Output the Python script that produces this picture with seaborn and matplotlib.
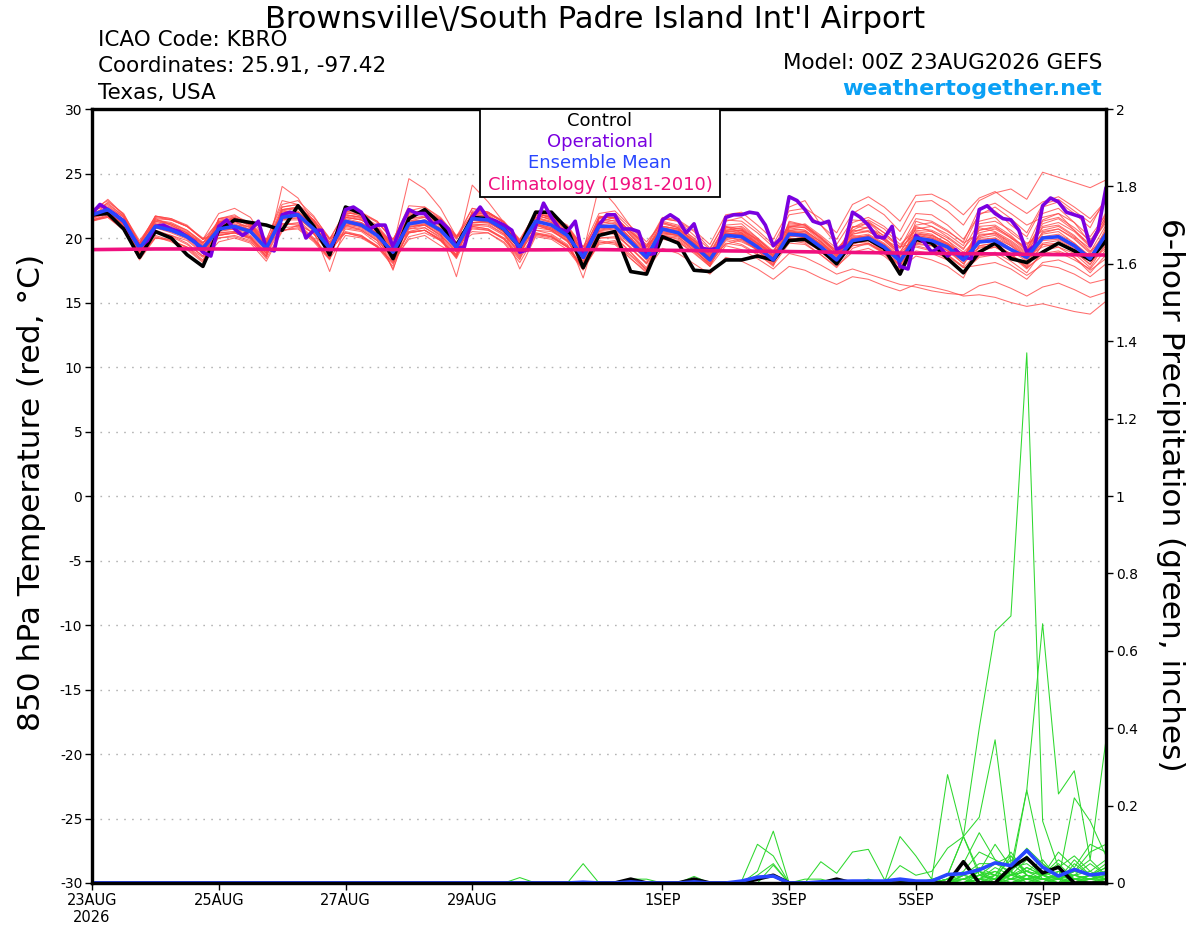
import matplotlib
matplotlib.use("Agg")
import matplotlib.pyplot as plt
from matplotlib.patches import Rectangle
import numpy as np
import pandas as pd
import seaborn as sns

# ---- forecast layout: GEFS 6-hourly members, GFS operational 3-hourly, daily climatology
step_h = 6
oper_step_h = 3
clim_step_h = 24

# 850 hPa temperature (deg C)
control_temp = [21.8, 21.9, 20.7, 18.5, 20.5, 20.0, 18.7, 17.8, 20.6, 21.4, 21.2, 21.0, 20.6,
                22.5, 20.9, 18.7, 22.4, 21.9, 20.6, 18.4, 21.5, 22.2, 21.1, 19.4, 21.6, 21.5,
                20.7, 19.3, 22.0, 22.0, 20.7, 17.7, 20.2, 20.5, 17.4, 17.2, 20.1, 19.6, 17.5,
                17.4, 18.3, 18.3, 18.6, 18.3, 19.8, 19.9, 19.1, 18.0, 19.7, 19.9, 19.2, 17.2,
                19.9, 19.6, 18.4, 17.3, 18.9, 19.6, 18.4, 18.1, 18.9, 19.6, 19.0, 18.3, 19.8]

oper_temp = [21.9, 22.6, 22.2, 21.8, 21.3, 20.2, 19.3, 19.8, 20.9, 21.0,
             20.7, 20.5, 20.1, 19.7, 18.9, 18.6, 20.9, 21.4, 20.7, 20.2,
             20.6, 21.3, 19.2, 19.0, 21.8, 22.0, 21.8, 20.0, 20.6, 20.6,
             19.1, 20.3, 22.2, 22.4, 22.0, 20.7, 21.0, 21.0, 19.3, 20.9,
             22.2, 21.9, 21.9, 21.1, 21.3, 20.7, 19.2, 19.3, 21.6, 22.4,
             21.5, 21.3, 21.0, 20.6, 18.9, 19.1, 20.9, 22.7, 21.6, 20.7,
             20.5, 21.3, 18.5, 19.8, 21.0, 21.8, 21.8, 20.7, 20.7, 20.5,
             18.7, 18.8, 21.4, 21.8, 21.4, 20.4, 21.1, 19.2, 19.1, 19.2,
             21.6, 21.8, 21.8, 22.0, 21.9, 21.0, 19.4, 20.0, 23.2, 22.9,
             22.2, 21.3, 21.1, 21.3, 19.1, 19.4, 22.0, 21.6, 21.0, 20.1,
             20.0, 20.9, 17.8, 17.6, 20.2, 19.7, 18.9, 19.3, 18.6, 19.1,
             18.5, 18.4, 22.2, 22.5, 21.9, 21.5, 21.4, 20.6, 18.9, 19.4,
             22.5, 23.1, 22.8, 22.0, 21.8, 21.6, 19.4, 20.6, 23.9]

mean_temp = [21.8, 22.2, 21.3, 19.2, 20.9, 20.6, 20.1, 19.2, 20.7, 20.9, 20.5, 19.2, 21.6,
             21.8, 20.7, 19.2, 21.3, 21.0, 20.2, 18.9, 21.1, 21.3, 20.6, 19.3, 21.5, 21.4,
             20.7, 19.3, 21.3, 21.0, 20.2, 18.5, 20.9, 20.9, 19.7, 18.5, 20.7, 20.4, 19.4,
             18.3, 20.2, 20.1, 19.3, 18.3, 20.3, 20.2, 19.3, 18.3, 19.8, 20.0, 19.3, 18.2,
             20.0, 19.8, 19.3, 18.3, 19.7, 19.8, 19.1, 18.5, 20.0, 20.1, 19.4, 18.4, 20.3]

clim_temp = [19.1, 19.15, 19.15, 19.12, 19.1, 19.1, 19.08, 19.08, 19.1, 19.05, 19.0,
             18.95, 18.88, 18.82, 18.78, 18.72, 18.68]

ens_temp = [
    [21.9, 22.4, 21.6, 19.5, 21.3, 21.0, 20.4, 19.0, 21.2, 21.6, 21.0, 19.6, 22.4, 22.6, 21.3, 19.5,
     21.8, 21.6, 20.5, 19.2, 21.7, 22.0, 21.4, 19.9, 22.3, 22.0, 21.2, 19.8, 22.0, 21.5, 20.9, 19.0,
     21.6, 21.9, 20.7, 19.3, 21.5, 21.3, 20.5, 19.2, 21.3, 21.6, 20.6, 19.5, 21.8, 22.0, 21.0, 19.9,
     21.9, 22.6, 21.8, 20.5, 22.8, 22.9, 22.1, 21.0, 22.9, 23.5, 23.8, 23.0, 25.1, 24.7, 24.3, 23.9, 24.5],
    [21.6, 22.0, 21.0, 18.9, 20.6, 20.2, 19.8, 18.8, 20.4, 20.5, 20.1, 18.6, 21.0, 21.2, 20.3, 18.8,
     20.7, 20.5, 19.6, 18.3, 20.4, 20.6, 19.8, 18.6, 20.8, 20.6, 19.9, 18.4, 20.3, 20.1, 19.4, 17.6,
     19.8, 19.6, 18.6, 17.5, 19.2, 18.8, 18.0, 17.2, 18.5, 18.2, 17.6, 16.8, 17.8, 17.5, 16.9, 16.4,
     17.0, 16.8, 16.3, 15.9, 16.4, 16.2, 15.9, 15.5, 15.6, 15.4, 15.0, 14.7, 14.9, 14.6, 14.3, 14.1, 15.1],
    [21.5, 22.8, 21.9, 19.6, 21.7, 21.5, 20.9, 19.9, 21.9, 22.3, 21.6, 19.8, 22.9, 22.6, 20.9, 18.8,
     22.4, 22.0, 21.3, 19.8, 22.5, 22.4, 21.6, 20.1, 21.0, 21.1, 20.3, 18.9, 20.6, 20.5, 19.8, 18.2,
     21.5, 21.8, 20.2, 19.0, 21.2, 20.8, 19.6, 18.8, 20.9, 20.4, 19.0, 17.9, 21.3, 21.0, 19.9, 18.8,
     20.6, 21.2, 20.4, 19.3, 19.6, 19.4, 18.7, 17.8, 20.9, 21.0, 20.2, 19.1, 21.4, 21.9, 20.6, 19.5, 21.2],
    [22.0, 23.0, 21.8, 19.6, 20.2, 19.8, 19.3, 18.3, 19.7, 20.0, 19.6, 18.2, 20.5, 21.0, 20.4, 19.3,
     20.4, 20.1, 19.3, 18.0, 20.1, 20.4, 19.8, 18.5, 21.9, 21.8, 21.0, 19.7, 21.7, 21.5, 20.6, 18.9,
     20.4, 20.5, 19.2, 18.0, 20.2, 19.9, 19.1, 17.9, 19.8, 19.5, 18.8, 17.8, 20.9, 20.8, 19.8, 18.6,
     20.4, 20.9, 19.9, 18.9, 20.9, 20.5, 19.8, 18.6, 19.2, 19.5, 18.7, 17.9, 19.5, 19.3, 18.8, 17.7, 19.6],
    [21.9, 22.2, 21.4, 19.3, 21.2, 20.9, 20.4, 19.4, 21.0, 21.0, 20.9, 19.7, 21.9, 22.0, 21.0, 19.4,
     21.6, 21.4, 20.6, 19.3, 24.6, 23.8, 22.3, 20.1, 21.8, 21.7, 20.9, 19.5, 21.0, 20.7, 20.0, 18.4,
     21.3, 21.1, 19.9, 18.8, 21.3, 21.0, 19.9, 18.7, 20.6, 20.8, 19.9, 18.9, 19.8, 19.6, 18.7, 17.7,
     19.2, 19.6, 18.9, 18.0, 20.8, 20.6, 20.0, 19.1, 21.3, 21.6, 20.4, 19.5, 20.6, 20.9, 20.1, 19.2, 21.5],
    [21.3, 21.6, 20.7, 18.6, 20.0, 19.8, 19.3, 18.5, 20.0, 20.1, 19.7, 18.6, 24.0, 23.1, 21.2, 19.0,
     20.4, 20.2, 19.4, 18.1, 20.5, 20.8, 20.0, 18.4, 20.9, 20.7, 20.0, 18.6, 20.4, 20.1, 19.3, 17.6,
     20.0, 20.1, 18.9, 17.7, 20.1, 20.0, 19.2, 17.8, 20.5, 20.6, 19.7, 18.6, 20.0, 19.9, 18.9, 18.0,
     20.8, 21.2, 20.1, 18.8, 19.3, 19.0, 18.4, 17.4, 18.6, 18.9, 18.2, 17.3, 19.0, 19.3, 18.5, 17.3, 18.7],
    [21.8, 22.3, 21.3, 19.1, 21.1, 20.6, 20.2, 19.1, 21.0, 20.9, 20.7, 19.4, 21.5, 21.9, 20.6, 18.9,
     21.5, 21.2, 20.4, 18.7, 20.7, 21.0, 20.2, 18.9, 24.1, 22.8, 21.2, 19.7, 21.8, 21.4, 20.8, 18.9,
     21.2, 21.6, 20.5, 19.3, 20.8, 20.6, 19.5, 18.2, 20.3, 20.0, 19.0, 18.0, 20.6, 20.3, 19.6, 18.4,
     19.6, 19.8, 18.9, 17.8, 21.3, 20.9, 20.1, 19.2, 20.6, 20.9, 20.0, 19.3, 21.9, 22.3, 21.2, 19.6, 22.0],
    [21.6, 21.9, 21.1, 19.0, 20.8, 20.5, 20.0, 19.1, 20.2, 20.4, 19.9, 18.6, 21.4, 21.6, 20.5, 17.4,
     21.0, 20.6, 19.8, 17.6, 20.8, 21.1, 20.4, 19.2, 21.2, 21.3, 20.4, 18.9, 21.1, 20.8, 20.0, 16.9,
     21.0, 20.8, 19.8, 18.3, 20.4, 20.2, 19.4, 18.0, 19.9, 19.7, 19.1, 18.5, 19.9, 19.8, 19.1, 18.0,
     19.9, 20.1, 19.4, 18.4, 19.6, 19.7, 19.0, 18.2, 20.3, 20.3, 19.5, 18.6, 19.3, 19.6, 18.9, 18.0, 19.4],
    [21.7, 22.0, 21.5, 19.6, 21.4, 21.1, 20.5, 19.6, 20.9, 21.3, 20.6, 19.0, 21.6, 21.7, 20.8, 19.3,
     21.2, 20.9, 20.3, 17.5, 21.4, 21.3, 20.4, 17.0, 21.6, 21.6, 21.0, 19.4, 21.4, 21.1, 20.3, 18.7,
     20.8, 20.6, 19.7, 18.6, 21.1, 20.8, 19.8, 18.6, 20.0, 20.4, 19.6, 18.7, 20.2, 20.0, 19.3, 18.3,
     20.9, 20.8, 20.0, 18.9, 20.7, 20.9, 20.3, 19.4, 21.9, 22.1, 21.0, 20.1, 22.4, 22.8, 21.9, 20.8, 23.2],
    [22.2, 22.9, 21.8, 19.8, 21.5, 21.4, 20.9, 19.9, 21.2, 21.5, 21.1, 19.9, 22.6, 22.9, 21.7, 19.9,
     22.1, 21.7, 20.8, 19.6, 21.6, 22.2, 21.4, 20.1, 22.3, 22.0, 21.3, 19.9, 21.9, 21.7, 20.8, 19.3,
     21.3, 21.6, 20.5, 19.5, 20.5, 20.3, 19.4, 18.5, 20.6, 20.4, 19.5, 18.3, 20.7, 20.6, 19.7, 18.5,
     20.1, 20.3, 19.6, 18.6, 20.2, 20.0, 19.4, 18.4, 19.0, 19.3, 18.6, 17.8, 20.3, 20.5, 19.6, 18.5, 20.6],
    [21.6, 22.1, 21.3, 19.3, 20.9, 20.6, 20.1, 19.0, 20.8, 21.0, 20.5, 19.3, 21.7, 21.9, 20.9, 19.5,
     21.1, 20.9, 20.2, 19.1, 21.2, 21.4, 20.8, 19.4, 21.4, 21.5, 20.8, 19.0, 21.5, 21.2, 20.4, 18.8,
     21.7, 21.5, 20.2, 18.9, 19.9, 19.7, 18.9, 17.8, 20.4, 20.3, 19.6, 18.9, 21.1, 21.0, 20.1, 19.0,
     20.6, 20.5, 19.8, 18.7, 19.4, 19.1, 18.6, 17.7, 17.9, 18.1, 17.6, 16.8, 18.1, 18.3, 17.8, 17.0, 18.0],
    [21.4, 21.7, 20.7, 18.5, 20.1, 19.7, 19.1, 18.1, 21.5, 21.8, 21.0, 19.4, 20.6, 20.7, 19.7, 18.3,
     21.9, 21.9, 21.3, 19.9, 22.1, 22.4, 21.5, 19.6, 20.5, 20.4, 19.6, 18.1, 20.2, 20.0, 19.3, 17.6,
     19.5, 19.7, 18.4, 17.4, 20.9, 20.7, 19.8, 18.9, 21.0, 21.1, 20.0, 18.8, 20.4, 20.5, 19.5, 18.1,
     19.4, 19.5, 18.8, 17.5, 20.5, 20.3, 19.5, 18.5, 20.8, 20.5, 19.8, 18.9, 20.8, 21.0, 20.2, 19.0, 19.9],
    [21.7, 22.2, 21.4, 19.2, 21.0, 20.8, 20.3, 19.3, 21.1, 21.2, 20.8, 19.5, 21.9, 21.8, 20.7, 19.1,
     21.3, 21.2, 20.4, 19.2, 20.9, 21.0, 20.3, 19.0, 21.7, 21.5, 20.9, 19.6, 21.6, 21.2, 20.5, 18.4,
     21.0, 21.2, 20.0, 18.5, 20.6, 20.5, 19.6, 18.4, 20.1, 19.8, 19.1, 18.1, 20.5, 20.4, 19.5, 18.6,
     21.2, 21.6, 20.9, 19.8, 21.9, 21.8, 21.0, 19.9, 21.8, 22.4, 21.5, 20.4, 22.6, 23.0, 22.1, 21.2, 22.8],
    [21.3, 21.7, 20.7, 18.6, 21.5, 21.0, 20.4, 19.5, 20.0, 20.2, 19.8, 18.4, 20.6, 20.8, 19.8, 18.4,
     20.2, 20.0, 19.3, 18.2, 19.9, 20.2, 19.4, 18.7, 21.2, 21.3, 20.5, 17.6, 20.1, 19.9, 19.1, 17.5,
     19.7, 19.5, 18.4, 17.3, 20.2, 20.1, 19.0, 18.0, 19.6, 19.4, 18.7, 17.9, 19.6, 19.5, 18.7, 17.8,
     18.9, 19.2, 18.6, 17.6, 19.0, 18.8, 18.3, 17.4, 18.5, 18.7, 17.9, 17.1, 17.9, 17.7, 17.2, 16.5, 16.8],
    [22.0, 22.2, 21.2, 19.1, 21.0, 20.7, 20.3, 19.6, 21.4, 21.5, 21.0, 19.6, 22.1, 22.3, 21.3, 19.7,
     21.6, 21.4, 20.7, 19.3, 21.3, 21.6, 21.2, 20.0, 21.9, 21.6, 20.9, 19.5, 21.0, 20.6, 19.8, 18.0,
     21.5, 21.3, 20.0, 18.6, 20.5, 20.2, 19.3, 18.2, 20.9, 20.7, 19.8, 18.7, 22.4, 22.9, 21.0, 19.5,
     21.4, 21.3, 20.4, 19.3, 20.3, 20.2, 19.6, 18.7, 19.9, 20.0, 19.4, 18.4, 20.5, 20.7, 20.0, 18.9, 21.0],
    [21.4, 21.6, 20.6, 18.3, 20.0, 19.9, 19.2, 18.2, 21.3, 21.1, 20.6, 19.5, 22.1, 21.9, 21.2, 19.7,
     20.5, 20.2, 19.3, 17.8, 22.0, 21.8, 21.0, 19.4, 20.3, 20.4, 19.7, 18.3, 21.9, 21.6, 20.8, 19.0,
     20.0, 20.0, 18.9, 17.5, 20.7, 20.6, 19.6, 18.4, 19.5, 19.9, 19.3, 18.4, 20.1, 20.3, 19.5, 18.7,
     19.7, 19.6, 18.8, 17.6, 18.6, 18.3, 17.8, 16.9, 19.4, 19.6, 18.7, 17.7, 18.6, 18.9, 18.3, 17.6, 19.1],
    [21.9, 22.3, 21.4, 19.4, 21.1, 20.8, 20.2, 19.2, 21.3, 21.5, 20.9, 19.5, 22.0, 22.1, 20.9, 19.2,
     21.7, 21.5, 20.8, 19.5, 21.5, 21.6, 20.7, 19.2, 21.4, 21.2, 20.6, 19.3, 21.9, 21.6, 20.7, 18.8,
     21.1, 21.4, 20.3, 19.0, 21.5, 21.3, 20.2, 19.1, 21.4, 21.3, 20.4, 19.3, 20.8, 21.1, 20.2, 19.2,
     20.3, 20.6, 19.9, 19.2, 21.5, 21.3, 20.6, 19.6, 20.4, 20.7, 20.0, 19.0, 21.1, 21.5, 20.6, 19.4, 21.7],
    [22.1, 22.7, 21.7, 19.6, 21.3, 21.1, 20.6, 19.7, 20.2, 20.4, 20.0, 18.5, 22.2, 22.4, 21.4, 19.6,
     20.4, 20.1, 19.4, 18.1, 20.4, 20.6, 19.8, 18.5, 22.1, 22.0, 21.2, 19.6, 20.4, 20.2, 19.4, 17.7,
     20.8, 21.0, 20.0, 18.9, 20.0, 19.8, 19.0, 18.0, 20.8, 20.7, 19.8, 18.6, 20.0, 19.7, 19.0, 18.2,
     19.5, 19.9, 19.1, 18.3, 19.8, 19.7, 19.1, 18.0, 21.1, 21.3, 20.6, 19.6, 20.1, 20.0, 19.3, 18.3, 20.8],
    [21.8, 22.1, 21.3, 19.3, 20.9, 20.7, 20.2, 19.2, 20.7, 20.9, 20.5, 19.3, 21.6, 21.9, 20.8, 19.3,
     21.4, 21.1, 20.4, 19.0, 21.2, 21.3, 20.7, 19.2, 21.5, 21.6, 20.8, 19.4, 21.3, 21.0, 20.3, 18.6,
     20.9, 20.9, 19.8, 18.6, 20.9, 20.7, 19.7, 18.5, 20.2, 20.0, 19.3, 18.4, 20.3, 20.1, 19.3, 18.4,
     19.9, 20.2, 19.5, 18.4, 20.1, 19.9, 19.3, 18.4, 19.8, 20.0, 19.2, 18.5, 20.0, 20.1, 19.5, 18.5, 20.2],
    [21.6, 22.0, 21.0, 18.9, 21.4, 21.2, 20.6, 19.6, 21.2, 21.5, 21.0, 19.8, 21.1, 21.1, 20.0, 18.5,
     21.8, 21.6, 20.7, 19.4, 20.5, 20.6, 19.9, 18.7, 22.0, 22.0, 21.2, 19.8, 20.6, 20.3, 19.5, 17.7,
     21.6, 21.6, 20.4, 19.1, 20.6, 20.3, 19.4, 18.3, 20.1, 20.3, 19.4, 18.2, 20.5, 20.3, 19.3, 18.3,
     20.2, 20.0, 19.1, 18.1, 20.0, 19.9, 19.4, 18.5, 19.4, 19.6, 19.0, 18.2, 19.8, 19.9, 19.3, 18.4, 20.3],
    [21.7, 22.0, 21.1, 19.1, 20.8, 20.4, 19.9, 18.9, 20.5, 20.7, 20.2, 18.9, 21.4, 21.4, 20.3, 18.9,
     21.0, 20.8, 20.0, 18.6, 20.9, 21.0, 20.2, 18.9, 21.1, 21.0, 20.3, 18.8, 20.8, 20.6, 19.7, 18.2,
     20.5, 20.3, 19.3, 18.0, 20.0, 19.7, 18.8, 17.8, 19.4, 19.1, 18.4, 17.6, 18.8, 18.5, 17.9, 17.2,
     17.6, 17.2, 16.8, 16.4, 16.2, 15.9, 15.7, 15.6, 16.3, 16.6, 16.1, 15.5, 16.2, 16.5, 16.0, 15.4, 15.8],
    [22.1, 22.6, 21.7, 19.6, 20.4, 20.1, 19.5, 18.6, 21.5, 21.7, 21.2, 19.9, 21.1, 21.0, 19.9, 18.4,
     22.1, 21.9, 21.2, 19.9, 22.0, 22.1, 21.5, 20.2, 20.9, 20.7, 19.9, 18.5, 21.8, 21.4, 20.6, 19.1,
     20.6, 20.5, 19.5, 18.3, 20.9, 20.7, 19.8, 18.7, 20.5, 20.6, 19.9, 18.9, 20.9, 20.8, 20.0, 18.8,
     20.5, 20.8, 20.2, 19.3, 21.0, 21.2, 20.5, 19.7, 22.3, 22.7, 21.9, 21.0, 21.6, 21.9, 21.2, 20.1, 21.8],
    [21.8, 22.0, 21.2, 19.0, 20.9, 20.5, 20.1, 19.3, 20.7, 20.8, 20.4, 19.1, 21.5, 21.7, 20.7, 19.0,
     21.2, 20.9, 20.2, 18.9, 21.0, 21.1, 20.6, 19.1, 21.4, 21.3, 20.5, 19.1, 21.1, 20.7, 19.9, 18.4,
     20.7, 20.7, 19.6, 18.4, 20.4, 20.2, 19.4, 18.2, 20.0, 19.9, 19.1, 18.1, 20.2, 20.0, 19.1, 18.1,
     19.6, 19.8, 19.0, 17.9, 19.5, 19.4, 18.7, 17.7, 19.0, 19.3, 18.6, 17.6, 18.8, 19.0, 18.5, 17.5, 18.4],
    [21.4, 21.8, 20.9, 18.8, 21.6, 21.4, 20.9, 20.0, 20.3, 20.4, 20.0, 18.8, 22.4, 22.6, 21.6, 20.0,
     20.9, 20.7, 19.9, 18.5, 21.9, 22.0, 21.4, 20.0, 21.0, 20.9, 20.2, 18.8, 22.1, 21.7, 21.0, 19.3,
     21.9, 22.1, 20.9, 19.7, 21.2, 20.9, 20.0, 18.8, 20.8, 20.9, 20.0, 19.0, 21.0, 20.9, 20.0, 19.0,
     20.8, 21.4, 20.7, 19.5, 20.6, 20.5, 19.8, 18.9, 20.1, 20.4, 19.7, 18.8, 20.9, 21.2, 20.5, 19.3, 21.4],
    [21.7, 22.0, 21.3, 19.2, 20.8, 20.6, 20.1, 19.1, 20.6, 20.7, 20.4, 19.0, 21.5, 21.5, 20.6, 19.2,
     21.1, 20.9, 20.1, 18.8, 21.1, 21.2, 20.6, 19.1, 21.2, 21.2, 20.5, 19.2, 21.1, 20.8, 20.0, 18.4,
     20.6, 20.8, 19.7, 18.6, 20.6, 20.4, 19.5, 18.4, 20.4, 20.2, 19.3, 18.4, 19.9, 19.8, 19.0, 18.0,
     19.4, 19.6, 18.9, 17.9, 19.9, 19.7, 19.2, 18.2, 19.6, 19.9, 19.2, 18.3, 19.6, 19.8, 19.2, 18.2, 19.2],
    [21.9, 22.2, 21.4, 19.3, 21.7, 21.5, 21.0, 19.9, 20.4, 20.5, 20.1, 18.8, 22.2, 22.4, 21.4, 19.9,
     20.8, 20.6, 19.8, 18.4, 21.8, 21.9, 21.1, 19.7, 20.7, 20.6, 20.0, 18.7, 21.9, 21.6, 20.9, 19.3,
     20.5, 20.3, 19.2, 18.1, 20.7, 20.5, 19.6, 18.6, 20.3, 20.2, 19.5, 18.6, 20.6, 20.5, 19.7, 18.7,
     20.0, 20.2, 19.5, 18.5, 20.4, 20.2, 19.6, 18.6, 20.2, 20.4, 19.6, 18.7, 20.4, 20.7, 19.9, 18.8, 20.5],
    [21.8, 22.2, 21.2, 19.1, 20.9, 20.6, 20.1, 19.2, 20.8, 20.9, 20.5, 19.2, 21.8, 21.8, 20.7, 19.2,
     21.3, 21.1, 20.3, 19.0, 21.2, 21.4, 20.7, 19.3, 21.5, 21.4, 20.7, 19.3, 21.3, 21.0, 20.2, 18.6,
     20.9, 21.0, 19.8, 18.7, 20.8, 20.5, 19.6, 18.5, 20.4, 20.3, 19.4, 18.4, 20.4, 20.2, 19.3, 18.4,
     20.0, 20.1, 19.4, 18.3, 20.3, 20.1, 19.5, 18.6, 20.0, 20.2, 19.4, 18.6, 20.1, 20.3, 19.6, 18.6, 20.4],
    [21.8, 22.0, 21.2, 19.2, 21.0, 20.7, 20.3, 19.4, 21.1, 21.3, 20.8, 19.5, 21.9, 22.0, 20.8, 19.2,
     21.6, 21.4, 20.6, 19.2, 21.5, 21.7, 20.9, 19.4, 21.8, 21.7, 21.0, 19.6, 21.6, 21.3, 20.5, 18.9,
     24.0, 22.6, 20.9, 19.4, 21.6, 21.4, 20.6, 19.5, 21.8, 22.0, 21.0, 19.9, 22.1, 22.3, 21.5, 20.4,
     22.6, 23.2, 22.4, 21.3, 23.3, 23.4, 22.8, 21.8, 23.1, 23.6, 22.7, 21.9, 22.8, 23.2, 22.4, 21.5, 22.9],
    [21.5, 21.9, 21.1, 19.1, 20.4, 20.2, 19.6, 18.6, 21.5, 21.6, 21.1, 19.7, 20.8, 20.9, 19.9, 18.4,
     21.8, 21.6, 20.8, 19.4, 20.4, 20.6, 19.9, 18.6, 21.9, 21.9, 21.2, 19.6, 20.3, 20.1, 19.3, 17.6,
     19.6, 19.8, 18.7, 17.6, 20.3, 20.2, 19.2, 18.1, 20.7, 20.6, 19.6, 18.5, 21.2, 21.0, 20.0, 18.9,
     19.9, 20.0, 19.2, 18.2, 19.7, 19.6, 19.0, 18.0, 19.3, 19.4, 18.8, 17.7, 19.5, 19.6, 19.0, 17.9, 20.1],
    [22.1, 22.5, 21.6, 19.6, 21.7, 21.4, 20.9, 19.9, 20.2, 20.4, 20.0, 18.8, 22.2, 22.3, 21.4, 19.9,
     22.0, 21.7, 21.0, 19.5, 20.7, 20.8, 20.1, 18.7, 22.0, 21.9, 21.2, 19.8, 21.0, 20.6, 19.8, 18.0,
     21.6, 21.6, 20.5, 19.3, 20.7, 20.5, 19.6, 18.5, 20.3, 20.5, 19.6, 18.6, 20.8, 20.6, 19.7, 18.6,
     20.3, 20.5, 19.8, 18.8, 20.2, 20.0, 19.5, 18.5, 20.6, 20.8, 20.1, 19.1, 21.3, 21.6, 20.8, 19.8, 21.6],
]

# 6-hour precipitation (inches)
control_precip = [0, 0, 0, 0, 0, 0, 0, 0, 0, 0, 0, 0, 0, 0, 0, 0, 0, 0, 0, 0, 0, 0, 0, 0, 0, 0,
                  0, 0, 0, 0, 0, 0, 0, 0, 0.01, 0, 0, 0, 0.01,
                  0, 0, 0, 0.01, 0.02, 0, 0, 0, 0.01, 0, 0, 0, 0,
                  0, 0, 0, 0.055, 0, 0, 0.04, 0.065, 0.026, 0.041, 0, 0, 0]

mean_precip = [0, 0, 0, 0, 0, 0, 0, 0, 0, 0, 0, 0, 0, 0, 0, 0, 0, 0, 0, 0, 0, 0, 0, 0, 0, 0,
               0, 0, 0, 0, 0, 0.002, 0, 0, 0.003, 0, 0, 0, 0.003,
               0, 0, 0.005, 0.015, 0.018, 0, 0, 0.003, 0.004, 0.005, 0.005, 0.005, 0.01,
               0.005, 0.005, 0.022, 0.024, 0.034, 0.052, 0.045, 0.084, 0.041, 0.018, 0.035, 0.021, 0.025]

ens_precip = [
    [0, 0, 0, 0, 0, 0, 0, 0, 0, 0, 0, 0, 0, 0, 0, 0, 0, 0, 0, 0, 0, 0, 0, 0, 0, 0,
     0, 0, 0, 0, 0, 0, 0, 0, 0, 0, 0, 0, 0,
     0, 0, 0, 0, 0, 0, 0, 0, 0, 0, 0, 0, 0.01,
     0, 0.01, 0.02, 0.12, 0.40, 0.65, 0.69, 1.37, 0.16, 0.04, 0.01, 0, 0],
    [0, 0, 0, 0, 0, 0, 0, 0, 0, 0, 0, 0, 0, 0, 0, 0, 0, 0, 0, 0, 0, 0, 0, 0, 0, 0,
     0, 0, 0, 0, 0, 0, 0, 0, 0, 0, 0, 0, 0,
     0, 0, 0, 0, 0, 0, 0, 0, 0, 0, 0, 0, 0,
     0, 0, 0, 0, 0.03, 0.10, 0.04, 0.24, 0.67, 0.23, 0.29, 0.06, 0.37],
    [0, 0, 0, 0, 0, 0, 0, 0, 0, 0, 0, 0, 0, 0, 0, 0, 0, 0, 0, 0, 0, 0, 0, 0, 0, 0,
     0, 0, 0, 0, 0, 0, 0, 0, 0, 0, 0, 0, 0,
     0, 0, 0.005, 0.10, 0.07, 0, 0, 0, 0, 0, 0, 0, 0,
     0, 0, 0, 0, 0.02, 0.03, 0.01, 0, 0.02, 0.01, 0, 0, 0.01],
    [0, 0, 0, 0, 0, 0, 0, 0, 0, 0, 0, 0, 0, 0, 0, 0, 0, 0, 0, 0, 0, 0, 0, 0, 0, 0,
     0, 0, 0, 0, 0, 0, 0, 0, 0, 0, 0, 0, 0,
     0, 0, 0, 0.03, 0.134, 0, 0, 0, 0, 0, 0, 0, 0,
     0, 0, 0.01, 0.02, 0.04, 0.02, 0.06, 0.03, 0.01, 0, 0.02, 0.05, 0.02],
    [0, 0, 0, 0, 0, 0, 0, 0, 0, 0, 0, 0, 0, 0, 0, 0, 0, 0, 0, 0, 0, 0, 0, 0, 0, 0,
     0, 0, 0, 0, 0, 0, 0, 0, 0, 0, 0, 0, 0,
     0, 0, 0, 0, 0, 0, 0, 0.055, 0.025, 0.08, 0.087, 0.01, 0.005,
     0, 0, 0.01, 0.05, 0.13, 0.06, 0.02, 0.03, 0.02, 0.06, 0.03, 0.02, 0.04],
    [0, 0, 0, 0, 0, 0, 0, 0, 0, 0, 0, 0, 0, 0, 0, 0, 0, 0, 0, 0, 0, 0, 0, 0, 0, 0,
     0, 0, 0, 0, 0, 0, 0, 0, 0, 0, 0, 0, 0,
     0, 0, 0, 0, 0, 0, 0, 0, 0, 0, 0, 0, 0.12,
     0.07, 0.01, 0.28, 0.12, 0.02, 0.01, 0.04, 0.05, 0.02, 0.01, 0.03, 0.02, 0.05],
    [0, 0, 0, 0, 0, 0, 0, 0, 0, 0, 0, 0, 0, 0, 0, 0, 0, 0, 0, 0, 0, 0, 0, 0, 0, 0,
     0, 0, 0, 0, 0, 0, 0, 0, 0, 0, 0, 0, 0,
     0, 0, 0, 0, 0, 0, 0, 0, 0, 0, 0, 0, 0.045,
     0.02, 0.03, 0.09, 0.12, 0.03, 0, 0.02, 0.01, 0.02, 0.08, 0.04, 0.10, 0.08],
    [0, 0, 0, 0, 0, 0, 0, 0, 0, 0, 0, 0, 0, 0, 0, 0, 0, 0, 0, 0, 0, 0, 0, 0, 0, 0,
     0, 0, 0, 0, 0, 0, 0, 0, 0, 0, 0, 0, 0,
     0, 0, 0, 0, 0, 0, 0, 0, 0, 0, 0, 0, 0,
     0, 0, 0.02, 0.12, 0.17, 0.37, 0.05, 0.02, 0.01, 0, 0.02, 0.01, 0.03],
    [0, 0, 0, 0, 0, 0, 0, 0, 0, 0, 0, 0, 0, 0, 0, 0, 0, 0, 0, 0, 0, 0, 0, 0, 0, 0,
     0, 0, 0, 0, 0, 0, 0, 0, 0, 0, 0, 0, 0,
     0, 0, 0, 0, 0, 0, 0, 0, 0, 0, 0, 0, 0,
     0, 0, 0, 0.01, 0.03, 0.02, 0.02, 0.24, 0.05, 0.01, 0.22, 0.16, 0.07],
    [0, 0, 0, 0, 0, 0, 0, 0, 0, 0, 0, 0, 0, 0, 0, 0, 0, 0, 0, 0, 0, 0, 0, 0, 0, 0,
     0, 0, 0, 0, 0, 0, 0, 0, 0, 0, 0, 0, 0,
     0, 0, 0, 0, 0, 0, 0, 0, 0, 0, 0, 0, 0,
     0, 0, 0, 0.02, 0.05, 0.05, 0.07, 0.03, 0.02, 0.04, 0.07, 0.03, 0.06],
    [0, 0, 0, 0, 0, 0, 0, 0, 0, 0, 0, 0, 0, 0, 0, 0, 0, 0, 0, 0, 0, 0, 0, 0, 0, 0,
     0, 0, 0, 0, 0, 0, 0, 0, 0, 0, 0, 0, 0,
     0, 0, 0, 0, 0, 0, 0, 0, 0, 0, 0, 0, 0,
     0, 0, 0.01, 0.03, 0.08, 0.06, 0.04, 0.09, 0.05, 0.02, 0.03, 0.08, 0.10],
    [0, 0, 0, 0, 0, 0, 0, 0, 0, 0, 0, 0, 0, 0, 0, 0, 0, 0, 0, 0, 0, 0, 0, 0, 0, 0,
     0, 0.014, 0, 0, 0, 0, 0, 0, 0, 0, 0, 0, 0,
     0, 0, 0, 0, 0, 0, 0, 0, 0, 0, 0, 0, 0,
     0, 0, 0, 0, 0.01, 0, 0.03, 0.07, 0.01, 0, 0.05, 0.02, 0.01],
    [0, 0, 0, 0, 0, 0, 0, 0, 0, 0, 0, 0, 0, 0, 0, 0, 0, 0, 0, 0, 0, 0, 0, 0, 0, 0,
     0, 0, 0, 0, 0, 0.05, 0, 0, 0, 0, 0, 0, 0,
     0, 0, 0, 0, 0, 0, 0, 0, 0, 0, 0, 0, 0,
     0, 0, 0, 0, 0, 0.02, 0.08, 0.02, 0, 0.03, 0.01, 0.02, 0.03],
    [0, 0, 0, 0, 0, 0, 0, 0, 0, 0, 0, 0, 0, 0, 0, 0, 0, 0, 0, 0, 0, 0, 0, 0, 0, 0,
     0, 0, 0, 0, 0, 0, 0, 0, 0.01, 0.01, 0, 0, 0.017,
     0, 0, 0, 0, 0, 0, 0, 0, 0, 0, 0, 0, 0,
     0, 0, 0, 0.01, 0.02, 0.01, 0.02, 0.06, 0.03, 0.01, 0.06, 0.02, 0.03],
    [0, 0, 0, 0, 0, 0, 0, 0, 0, 0, 0, 0, 0, 0, 0, 0, 0, 0, 0, 0, 0, 0, 0, 0, 0, 0,
     0, 0, 0, 0, 0, 0, 0, 0, 0, 0, 0, 0, 0.012,
     0, 0, 0, 0.02, 0.05, 0, 0, 0, 0, 0, 0, 0, 0,
     0, 0, 0, 0.02, 0.01, 0.04, 0.02, 0.01, 0.02, 0.05, 0.01, 0.01, 0.02],
    [0, 0, 0, 0, 0, 0, 0, 0, 0, 0, 0, 0, 0, 0, 0, 0, 0, 0, 0, 0, 0, 0, 0, 0, 0, 0,
     0, 0, 0, 0, 0, 0, 0, 0, 0, 0, 0, 0, 0,
     0, 0, 0, 0, 0.046, 0, 0, 0, 0, 0, 0, 0, 0,
     0, 0, 0, 0, 0.02, 0.05, 0.03, 0.01, 0.04, 0.02, 0.02, 0.03, 0.01],
    [0, 0, 0, 0, 0, 0, 0, 0, 0, 0, 0, 0, 0, 0, 0, 0, 0, 0, 0, 0, 0, 0, 0, 0, 0, 0,
     0, 0, 0, 0, 0, 0, 0, 0, 0, 0, 0, 0, 0,
     0, 0, 0, 0, 0, 0, 0, 0, 0, 0, 0, 0, 0,
     0, 0, 0.01, 0.01, 0.03, 0.01, 0.07, 0.02, 0.01, 0.01, 0.03, 0.06, 0.02],
    [0, 0, 0, 0, 0, 0, 0, 0, 0, 0, 0, 0, 0, 0, 0, 0, 0, 0, 0, 0, 0, 0, 0, 0, 0, 0,
     0, 0, 0, 0, 0, 0, 0, 0, 0, 0, 0, 0, 0,
     0, 0, 0, 0, 0, 0, 0.01, 0.01, 0, 0, 0, 0, 0,
     0, 0, 0, 0, 0, 0.02, 0.01, 0.04, 0.02, 0, 0.01, 0.02, 0.04],
    [0, 0, 0, 0, 0, 0, 0, 0, 0, 0, 0, 0, 0, 0, 0, 0, 0, 0, 0, 0, 0, 0, 0, 0, 0, 0,
     0, 0, 0, 0, 0, 0, 0, 0, 0, 0, 0, 0, 0,
     0, 0, 0, 0, 0, 0, 0, 0, 0, 0, 0, 0, 0,
     0, 0, 0, 0.02, 0.01, 0, 0.02, 0.03, 0.06, 0.01, 0, 0.02, 0.01],
    [0, 0, 0, 0, 0, 0, 0, 0, 0, 0, 0, 0, 0, 0, 0, 0, 0, 0, 0, 0, 0, 0, 0, 0, 0, 0,
     0, 0, 0, 0, 0, 0, 0, 0, 0, 0, 0, 0, 0,
     0, 0, 0, 0, 0, 0, 0, 0, 0, 0, 0, 0, 0,
     0, 0, 0, 0, 0.01, 0.02, 0, 0.01, 0.02, 0.03, 0.02, 0.01, 0.02],
    [0, 0, 0, 0, 0, 0, 0, 0, 0, 0, 0, 0, 0, 0, 0, 0, 0, 0, 0, 0, 0, 0, 0, 0, 0, 0,
     0, 0, 0, 0, 0, 0, 0, 0, 0, 0, 0, 0, 0,
     0, 0, 0, 0, 0, 0, 0, 0, 0, 0, 0, 0, 0,
     0, 0, 0, 0, 0, 0, 0.01, 0.02, 0.01, 0, 0, 0.01, 0.01],
    [0, 0, 0, 0, 0, 0, 0, 0, 0, 0, 0, 0, 0, 0, 0, 0, 0, 0, 0, 0, 0, 0, 0, 0, 0, 0,
     0, 0, 0, 0, 0, 0, 0, 0, 0, 0, 0, 0, 0,
     0, 0, 0, 0, 0, 0, 0, 0, 0, 0, 0, 0, 0,
     0, 0, 0.01, 0, 0, 0.01, 0.03, 0, 0.01, 0.02, 0.01, 0, 0.01],
    [0, 0, 0, 0, 0, 0, 0, 0, 0, 0, 0, 0, 0, 0, 0, 0, 0, 0, 0, 0, 0, 0, 0, 0, 0, 0,
     0, 0, 0, 0, 0, 0, 0, 0, 0, 0, 0, 0, 0,
     0, 0, 0, 0, 0, 0, 0, 0, 0, 0, 0.01, 0, 0.01,
     0, 0, 0, 0.01, 0.02, 0.01, 0, 0.02, 0.01, 0.01, 0.01, 0.02, 0],
    [0, 0, 0, 0, 0, 0, 0, 0, 0, 0, 0, 0, 0, 0, 0, 0, 0, 0, 0, 0, 0, 0, 0, 0, 0, 0,
     0, 0, 0, 0, 0, 0, 0, 0, 0, 0, 0, 0, 0,
     0, 0, 0, 0, 0, 0, 0, 0, 0, 0, 0, 0, 0,
     0, 0, 0, 0, 0.01, 0.01, 0.02, 0.04, 0.02, 0.01, 0.02, 0.01, 0.02],
    [0, 0, 0, 0, 0, 0, 0, 0, 0, 0, 0, 0, 0, 0, 0, 0, 0, 0, 0, 0, 0, 0, 0, 0, 0, 0,
     0, 0, 0, 0, 0, 0, 0, 0, 0, 0, 0, 0, 0,
     0, 0, 0, 0, 0, 0, 0, 0, 0, 0, 0, 0, 0,
     0, 0, 0, 0, 0, 0, 0, 0.01, 0, 0.01, 0, 0, 0.01],
    [0, 0, 0, 0, 0, 0, 0, 0, 0, 0, 0, 0, 0, 0, 0, 0, 0, 0, 0, 0, 0, 0, 0, 0, 0, 0,
     0, 0, 0, 0, 0, 0, 0, 0, 0, 0, 0, 0, 0,
     0, 0, 0, 0, 0, 0, 0, 0, 0, 0, 0, 0, 0,
     0, 0, 0, 0, 0, 0, 0, 0, 0, 0, 0, 0, 0],
    [0, 0, 0, 0, 0, 0, 0, 0, 0, 0, 0, 0, 0, 0, 0, 0, 0, 0, 0, 0, 0, 0, 0, 0, 0, 0,
     0, 0, 0, 0, 0, 0, 0, 0, 0, 0, 0, 0, 0,
     0, 0, 0, 0, 0, 0, 0, 0, 0, 0, 0, 0, 0,
     0, 0, 0, 0, 0.01, 0.03, 0.01, 0.01, 0, 0, 0.01, 0.01, 0],
    [0, 0, 0, 0, 0, 0, 0, 0, 0, 0, 0, 0, 0, 0, 0, 0, 0, 0, 0, 0, 0, 0, 0, 0, 0, 0,
     0, 0, 0, 0, 0, 0, 0, 0, 0, 0, 0, 0, 0,
     0, 0, 0, 0, 0, 0, 0, 0, 0, 0, 0, 0, 0,
     0, 0, 0, 0, 0, 0, 0, 0, 0, 0, 0, 0, 0],
    [0, 0, 0, 0, 0, 0, 0, 0, 0, 0, 0, 0, 0, 0, 0, 0, 0, 0, 0, 0, 0, 0, 0, 0, 0, 0,
     0, 0, 0, 0, 0, 0, 0, 0, 0, 0, 0, 0, 0,
     0, 0, 0, 0, 0, 0, 0, 0, 0, 0, 0, 0, 0,
     0, 0, 0.01, 0.01, 0, 0, 0.01, 0.02, 0.01, 0, 0, 0.01, 0.01],
    [0, 0, 0, 0, 0, 0, 0, 0, 0, 0, 0, 0, 0, 0, 0, 0, 0, 0, 0, 0, 0, 0, 0, 0, 0, 0,
     0, 0, 0, 0, 0, 0, 0, 0, 0, 0, 0, 0, 0,
     0, 0, 0, 0, 0, 0, 0, 0, 0, 0, 0, 0, 0,
     0, 0, 0, 0, 0.01, 0, 0, 0.01, 0.01, 0.02, 0.01, 0, 0.01],
]

tick_hours = [0, 48, 96, 144, 216, 264, 312, 360]
tick_labels = ['23AUG\n2026', '25AUG', '27AUG', '29AUG', '1SEP', '3SEP', '5SEP', '7SEP']
temp_ticks = [-30, -25, -20, -15, -10, -5, 0, 5, 10, 15, 20, 25, 30]
precip_ticks = [0, 0.2, 0.4, 0.6, 0.8, 1.0, 1.2, 1.4, 1.6, 1.8, 2.0]

legend_items = [('Control', 'black'), ('Operational', '#7a00e0'),
                ('Ensemble Mean', '#2846ff'), ('Climatology (1981-2010)', '#f0107f')]

# ---- long-form table for the ensemble spaghetti
hours = np.arange(len(mean_temp)) * step_h
rows = []
for m, (tt, pp) in enumerate(zip(ens_temp, ens_precip)):
    for h, t, p in zip(hours, tt, pp):
        rows.append((m + 1, h, t, p))
ens = pd.DataFrame(rows, columns=['member', 'hour', 'temp', 'precip'])

sns.set_theme(style='ticks')
plt.rcParams['font.family'] = ['DejaVu Sans']
plt.rcParams['axes.unicode_minus'] = False
plt.rcParams.update({'text.color': 'black', 'xtick.color': 'black',
                     'ytick.color': 'black', 'axes.labelcolor': 'black'})

W, H = 1200, 927
fig = plt.figure(figsize=(W / 100, H / 100), dpi=100)
fig.patch.set_facecolor('white')


def fx(px):
    return px / W


def fy(py):
    return 1 - py / H


ax = fig.add_axes([fx(92), fy(883), (1106 - 92) / W, (883 - 109) / H])
ax2 = ax.twinx()

# temperature (left axis)
sns.lineplot(data=ens, x='hour', y='temp', units='member', estimator=None,
             color='#ff4848', lw=0.75, alpha=0.8, ax=ax, legend=False)
sns.lineplot(x=hours, y=control_temp, color='black', lw=2.6, ax=ax)
sns.lineplot(x=np.arange(len(oper_temp)) * oper_step_h, y=oper_temp,
             color='#7a00e0', lw=2.6, ax=ax)
sns.lineplot(x=hours, y=mean_temp, color='#2846ff', lw=2.6, ax=ax)
sns.lineplot(x=np.arange(len(clim_temp)) * clim_step_h, y=clim_temp,
             color='#f0107f', lw=2.6, ax=ax)

# precipitation (right axis)
sns.lineplot(data=ens, x='hour', y='precip', units='member', estimator=None,
             color='#2ed82e', lw=0.75, ax=ax2, legend=False)
sns.lineplot(x=hours, y=control_precip, color='black', lw=2.6, ax=ax2)
sns.lineplot(x=hours, y=mean_precip, color='#2846ff', lw=2.6, ax=ax2)

ax.set_xlim(0, 384)
ax.set_ylim(-30, 30)
ax2.set_ylim(0, 2)
ax.set_xticks(tick_hours)
ax.set_xticklabels(tick_labels)
ax.set_yticks(temp_ticks)
ax.set_yticklabels([str(v) for v in temp_ticks])
ax2.set_yticks(precip_ticks)
ax2.set_yticklabels([f'{v:g}' for v in precip_ticks])
ax.set_xlabel('')
ax.set_ylabel('')
ax2.set_ylabel('')

ax.grid(axis='y', color='#b4b4b4', linestyle=(0, (1.2, 4.5)), linewidth=1.0)
ax.set_axisbelow(True)

for a in (ax, ax2):
    for s in a.spines.values():
        s.set_linewidth(2.3)
        s.set_color('black')
        s.set_visible(True)
ax.tick_params(axis='y', direction='out', length=5, width=1, labelsize=10, pad=2,
               left=True, right=False)
ax.tick_params(axis='x', direction='out', length=5, width=1, labelsize=10.5, pad=2,
               bottom=True, top=False)
ax2.tick_params(axis='y', direction='out', length=5, width=1, labelsize=10, pad=2,
                right=True, left=False)

# axis titles
fig.text(fx(32), fy(492), '850 hPa Temperature (red, \u00b0C)', rotation=90,
         ha='center', va='center', fontsize=22.5)
fig.text(fx(1170), fy(495), '6-hour Precipitation (green, inches)', rotation=270,
         ha='center', va='center', fontsize=22.5)

# header
fig.text(fx(595), fy(19), "Brownsville\\/South Padre Island Int'l Airport",
         ha='center', va='center', fontsize=22)
fig.text(fx(98), fy(40), 'ICAO Code: KBRO', ha='left', va='center', fontsize=15.5)
fig.text(fx(98), fy(66), 'Coordinates: 25.91, -97.42', ha='left', va='center', fontsize=15.5)
fig.text(fx(98), fy(93), 'Texas, USA', ha='left', va='center', fontsize=15.5)
fig.text(fx(1102), fy(63), 'Model: 00Z 23AUG2026 GEFS', ha='right', va='center', fontsize=15.5)
fig.text(fx(1102), fy(89), 'weathertogether.net', ha='right', va='center',
         fontsize=16, fontweight='bold', color='#0aa0f5')

# legend box
fig.add_artist(Rectangle((fx(480), fy(197)), 240 / W, 88 / H, transform=fig.transFigure,
                         facecolor='white', edgecolor='black', lw=1.3, zorder=5))
for (label, col), py in zip(legend_items, [121, 142, 163, 185]):
    fig.text(fx(600), fy(py), label, ha='center', va='center', fontsize=13,
             color=col, zorder=6)

fig.savefig('out.png', dpi=100, facecolor='white')
